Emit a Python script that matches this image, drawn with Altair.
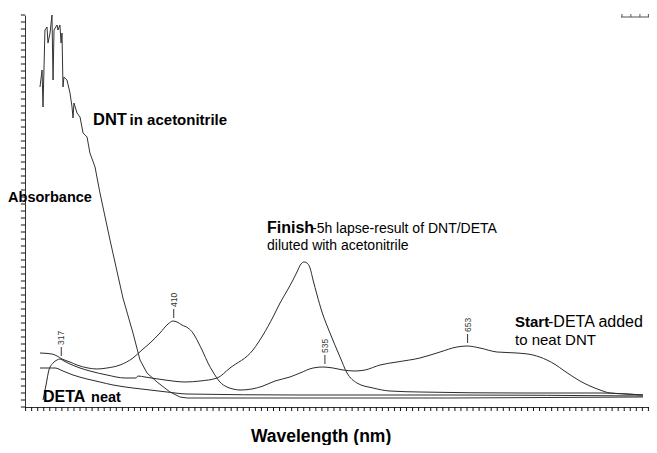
import altair as alt
import pandas as pd

# ---------------- data ----------------
dnt_wl = [299.4, 301.1, 301.9, 303.5, 305.2, 306.0, 307.7, 309.3, 310.2, 311.0, 313.5, 314.3,
          315.9, 316.8, 317.6, 318.4, 319.2, 321.7, 324.2, 325.9, 326.7, 327.5, 330.0, 332.5,
          335.0, 338.3, 340.7, 344.9, 349.0, 357.3, 368.0, 376.3, 382.1, 387.9, 396.2, 406.9,
          415.2, 421.0, 514.4, 638.4, 798.0]
dnt_abs = [3.20, 3.37, 3.00, 3.77, 3.80, 3.64, 3.74, 3.92, 3.27, 3.77, 3.82, 3.77,
           3.82, 3.64, 3.74, 3.20, 3.30, 3.27, 3.14, 3.00, 2.89, 3.04, 2.94, 2.90,
           2.74, 2.70, 2.54, 2.40, 2.14, 1.67, 1.09, 0.74, 0.47, 0.34, 0.25, 0.15,
           0.10, 0.09, 0.09, 0.09, 0.10]

finish_wl = [301.9, 304.4, 306.8, 310.2, 313.5, 315.9, 319.2, 324.2, 332.5, 340.7, 354.8, 369.7,
             378.8, 380.4, 386.2, 402.8, 419.3, 431.7, 445.8, 456.5, 475.5, 483.8, 492.1, 497.9,
             503.6, 508.6, 511.9, 515.2, 517.7, 520.2, 522.7, 525.2, 528.5, 532.6, 539.2, 547.5,
             553.3, 561.5, 574.8, 588.8, 613.6, 696.3, 762.5, 798.0]
finish_abs = [0.07, 0.22, 0.37, 0.44, 0.47, 0.48, 0.46, 0.43, 0.39, 0.36, 0.32, 0.29,
              0.29, 0.31, 0.30, 0.27, 0.25, 0.26, 0.29, 0.39, 0.57, 0.72, 0.90, 1.04,
              1.16, 1.27, 1.35, 1.43, 1.45, 1.44, 1.39, 1.27, 1.12, 0.95, 0.74, 0.50,
              0.34, 0.24, 0.19, 0.16, 0.15, 0.14, 0.14, 0.12]

start_wl = [299.4, 309.3, 313.5, 317.6, 324.2, 330.0, 339.1, 346.5, 354.8, 365.6, 376.3, 383.7,
            390.4, 398.6, 405.3, 409.4, 412.7, 416.8, 421.8, 425.9, 430.1, 434.2, 438.3, 442.5,
            448.2, 454.0, 459.0, 464.8, 474.7, 483.8, 493.7, 506.1, 514.4, 525.2, 533.4, 541.7,
            550.0, 559.9, 568.2, 580.6, 594.6, 613.6, 630.2, 644.2, 652.5, 663.2, 677.3, 693.8,
            707.1, 718.6, 726.1, 731.9, 739.3, 745.9, 754.2, 762.5, 770.7, 783.1, 798.0]
start_abs = [0.54, 0.53, 0.51, 0.48, 0.45, 0.42, 0.39, 0.38, 0.39, 0.42, 0.49, 0.57,
             0.64, 0.74, 0.83, 0.86, 0.85, 0.82, 0.79, 0.74, 0.65, 0.55, 0.44, 0.35,
             0.25, 0.20, 0.18, 0.17, 0.18, 0.21, 0.26, 0.30, 0.34, 0.39, 0.40, 0.39,
             0.37, 0.36, 0.37, 0.42, 0.45, 0.49, 0.55, 0.60, 0.61, 0.59, 0.55, 0.54,
             0.52, 0.47, 0.42, 0.37, 0.31, 0.26, 0.21, 0.17, 0.14, 0.13, 0.12]

deta_wl = [299.4, 311.8, 318.4, 326.7, 338.3, 349.0, 359.8, 376.3, 390.4, 404.4, 421.0, 514.4,
           638.4, 798.0]
deta_abs = [0.39, 0.39, 0.36, 0.32, 0.28, 0.25, 0.22, 0.19, 0.17, 0.15, 0.13, 0.12,
            0.12, 0.11]

peak_labels = ["317", "410", "535", "653"]
peak_wl = [317, 410, 535, 653]
peak_abs = [0.48, 0.86, 0.40, 0.61]

# annotation texts: text, wavelength, absorbance (baseline), font size
bold_text = ["DNT", "in acetonitrile", "Absorbance", "Finish", "Start", "DETA", "neat"]
bold_wl = [343.2, 373.5, 273.0, 487.1, 692.2, 301.9, 341.6]
bold_abs = [2.82, 2.82, 2.05, 1.74, 0.80, 0.05, 0.05]
bold_size = [16.5, 15, 14.5, 16, 15, 16, 14.5]

plain_text = ["-5h lapse-result of DNT/DETA", "diluted with acetonitrile", "-DETA added", "to neat DNT"]
plain_wl = [524.3, 487.1, 719.5, 692.2]
plain_abs = [1.74, 1.57, 0.80, 0.62]
plain_size = [14, 14, 16, 15]

x_title = ["Wavelength (nm)"]
x_title_wl = [531.8]
x_title_abs = [-0.345]

# axis tick positions (no tick labels in the reference)
x_ticks = [287.5 + 5 * i for i in range(104)]
y_ticks = [round(i * 0.07, 2) for i in range(57)]

corner_bar_wl = [779.8]
corner_bar_wl2 = [803.0]
corner_bar_abs = [3.90]
corner_tick_wl = [780.6, 788.0, 795.5, 802.5]

FONT = "Liberation Sans"
X_MIN, X_MAX = 287, 803
Y_MIN, Y_MAX = 0, 3.92

# ---------------- tables ----------------
def frame(name, wl, ab):
    return pd.DataFrame({"series": name, "wavelength": wl, "absorbance": ab,
                         "order": list(range(len(wl)))})

smooth = pd.concat([frame("Finish", finish_wl, finish_abs),
                    frame("Start", start_wl, start_abs),
                    frame("DETA neat", deta_wl, deta_abs)])
noisy = frame("DNT", dnt_wl, dnt_abs)

peaks = pd.DataFrame({"label": peak_labels, "wavelength": peak_wl, "absorbance": peak_abs})
peaks["lo"] = peaks["absorbance"] + 0.03
peaks["hi"] = peaks["absorbance"] + 0.12
peaks["txt"] = peaks["absorbance"] + 0.14

bold_df = pd.DataFrame({"t": bold_text, "wavelength": bold_wl, "absorbance": bold_abs, "s": bold_size})
plain_df = pd.DataFrame({"t": plain_text, "wavelength": plain_wl, "absorbance": plain_abs, "s": plain_size})
xt_df = pd.DataFrame({"t": x_title, "wavelength": x_title_wl, "absorbance": x_title_abs})
bar_df = pd.DataFrame({"wavelength": corner_bar_wl, "w2": corner_bar_wl2, "absorbance": corner_bar_abs})
tick_df = pd.DataFrame({"wavelength": corner_tick_wl})
tick_df["lo"] = corner_bar_abs[0]
tick_df["hi"] = corner_bar_abs[0] + 0.03

xt_df2 = pd.DataFrame({"wavelength": x_ticks})
xt_df2["lo"] = Y_MIN
xt_df2["hi"] = Y_MIN - 0.04
yt_df = pd.DataFrame({"absorbance": y_ticks})
yt_df["lo"] = X_MIN
yt_df["hi"] = X_MIN - 3.4

# ---------------- scales ----------------
xs = alt.Scale(domain=[X_MIN, X_MAX], nice=False, zero=False)
ys = alt.Scale(domain=[Y_MIN, Y_MAX], nice=False, zero=False)

X = alt.X("wavelength:Q", scale=xs,
          axis=alt.Axis(labels=False, ticks=False, title=None, grid=False,
                        domainColor="#333", domainWidth=1))
Y = alt.Y("absorbance:Q", scale=ys,
          axis=alt.Axis(labels=False, ticks=False, title=None, grid=False,
                        domainColor="#333", domainWidth=1))

lines_smooth = alt.Chart(smooth).mark_line(interpolate="monotone", strokeWidth=1, color="#2b2b2b").encode(
    x=X, y=Y, detail="series:N", order="order:Q")
lines_noisy = alt.Chart(noisy).mark_line(strokeWidth=1, color="#333333").encode(
    x=alt.X("wavelength:Q", scale=xs), y=alt.Y("absorbance:Q", scale=ys), order="order:Q")

x_tick_layer = alt.Chart(xt_df2).mark_rule(color="#111", strokeWidth=1).encode(
    x=alt.X("wavelength:Q", scale=xs), y=alt.Y("lo:Q", scale=ys), y2="hi:Q")
y_tick_layer = alt.Chart(yt_df).mark_rule(color="#111", strokeWidth=1).encode(
    y=alt.Y("absorbance:Q", scale=ys), x=alt.X("lo:Q", scale=xs), x2="hi:Q")

peak_ticks = alt.Chart(peaks).mark_rule(color="#333", strokeWidth=1).encode(
    x=alt.X("wavelength:Q", scale=xs), y=alt.Y("lo:Q", scale=ys), y2="hi:Q")
peak_text = alt.Chart(peaks).mark_text(angle=270, align="left", baseline="middle", font=FONT,
                                       fontSize=8.5, color="#333").encode(
    x=alt.X("wavelength:Q", scale=xs), y=alt.Y("txt:Q", scale=ys), text="label:N")

bold_layer = alt.Chart(bold_df).mark_text(align="left", baseline="alphabetic", font=FONT,
                                          fontWeight="bold", color="#000").encode(
    x=alt.X("wavelength:Q", scale=xs), y=alt.Y("absorbance:Q", scale=ys), text="t:N",
    size=alt.Size("s:Q", scale=None, legend=None))
plain_layer = alt.Chart(plain_df).mark_text(align="left", baseline="alphabetic", font=FONT,
                                            color="#000").encode(
    x=alt.X("wavelength:Q", scale=xs), y=alt.Y("absorbance:Q", scale=ys), text="t:N",
    size=alt.Size("s:Q", scale=None, legend=None))
xtitle_layer = alt.Chart(xt_df).mark_text(align="center", baseline="alphabetic", font=FONT,
                                          fontWeight="bold", fontSize=17.5, color="#000").encode(
    x=alt.X("wavelength:Q", scale=xs), y=alt.Y("absorbance:Q", scale=ys), text="t:N")

bar_layer = alt.Chart(bar_df).mark_rule(color="#555", strokeWidth=1).encode(
    x=alt.X("wavelength:Q", scale=xs), x2="w2:Q", y=alt.Y("absorbance:Q", scale=ys))
bar_ticks = alt.Chart(tick_df).mark_rule(color="#555", strokeWidth=1).encode(
    x=alt.X("wavelength:Q", scale=xs), y=alt.Y("lo:Q", scale=ys), y2="hi:Q")

chart = alt.layer(lines_smooth, lines_noisy, x_tick_layer, y_tick_layer, peak_ticks, peak_text,
                  bold_layer, plain_layer, xtitle_layer, bar_layer, bar_ticks).properties(
    width=624, height=392,
    padding={"left": 17, "top": 7, "right": 0, "bottom": 38},
    autosize=alt.AutoSizeParams(type="none"),
    background="white",
).configure_view(stroke=None)

chart.save("out.html", embed_options={"renderer": "svg", "actions": False})
